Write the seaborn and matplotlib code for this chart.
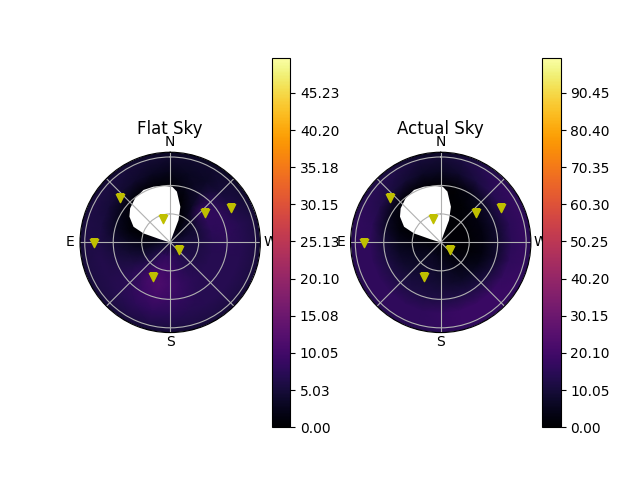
import numpy as np
import matplotlib
matplotlib.use("Agg")
import matplotlib.pyplot as plt
import seaborn as sns

# sky grid: azimuth (deg, N=0, E=90) and zenith angle (deg)
AZIMUTHS = [0, 15, 30, 45, 60, 75, 90, 105, 120, 135, 150, 165,
            180, 195, 210, 225, 240, 255, 270, 285, 300, 315, 330, 345]
ZENITHS = [0, 15, 30, 45, 60, 75, 89, 95]

FLAT_SKY = [
    [4, 4, 4, 4, 4, 4, 4, 4, 4, 4, 4, 4, 4, 4, 4, 4, 4, 4, 4, 4, 4, 4, 4, 4],
    [0, 0, 0, 0, 0, 1, 2.5, 4, 5, 6.5, 7.5, 8, 8, 7.5, 7, 6.5, 6, 5.5, 5, 4.5, 3.5, 2.5, 1, 0],
    [0, 0, 0, 0, 0, 0.5, 2, 3.5, 5, 7, 9, 10, 9.5, 8, 7, 6.5, 6, 6, 5.5, 5, 4.5, 3.5, 1.5, 0],
    [0, 0, 0, 0, 0, 1, 3, 4.5, 6, 8, 10.5, 11.5, 10, 8.5, 7.5, 7, 7, 7, 7, 7.5, 8, 8.5, 3, 0.5],
    [0.5, 0.5, 0.5, 1, 2, 3, 4.5, 5.5, 6.5, 7.5, 9, 10, 9, 8, 7, 7, 7, 7, 7.5, 8, 8, 7.5, 4, 2],
    [2.5, 3, 4, 4.5, 5, 5.5, 6, 6.5, 6.5, 7, 7.5, 8, 7.5, 7, 7, 7, 7, 7, 7, 7, 6, 5, 3.5, 3],
    [4, 4.5, 5, 5.5, 6, 6, 6, 6, 6, 6, 6, 6, 6, 6, 6, 6, 6, 6, 6, 6, 5, 4.5, 4, 4],
    [3, 3.5, 4, 4, 4.5, 4.5, 4.5, 4.5, 4.5, 4.5, 4.5, 4.5,
     4.5, 4.5, 4.5, 4.5, 4.5, 4.5, 4.5, 4.5, 4, 3.5, 3, 3],
]

ACTUAL_SKY = [
    [1, 1, 1, 1, 1, 1, 1, 1, 1, 1, 1, 1, 1, 1, 1, 1, 1, 1, 1, 1, 1, 1, 1, 1],
    [0, 0, 0, 0, 0, 0, 2, 3, 4, 5, 5.5, 5, 4, 3, 2, 1, 0.5, 0.5, 0.5, 0.5, 0.5, 0.5, 0, 0],
    [0, 0, 0, 0, 0, 1, 3, 5, 6, 7, 8, 8, 7, 6, 4, 3, 2, 1, 1, 1, 1, 0.5, 0, 0],
    [0, 0, 0, 0, 0, 2, 5, 7, 8, 9, 10, 10, 9, 8, 7, 6, 4, 3, 3, 3, 3, 2, 1, 0],
    [0.5, 0.5, 1, 2, 4, 7, 10, 11, 12, 12, 12, 12, 12, 12, 12, 11, 10, 8, 8, 8, 8, 6, 3, 1],
    [6, 7, 9, 11, 13, 15, 16, 16, 16, 16, 16, 16, 17, 18, 18, 18, 17, 16, 15, 15, 15, 14, 11, 8],
    [9, 10, 12, 14, 15, 16, 16, 16, 16, 16, 16, 16, 17, 18, 18, 18, 18, 17, 17, 17, 17, 16, 14, 11],
    [6, 7, 9, 11, 12, 13, 13, 13, 13, 13, 13, 13, 14, 15, 15, 15, 15, 14, 14, 14, 14, 13, 11, 8],
]

# masked (no data) region boundary
MASK_AZ = [-20, -20, -20.5, -16, -7.5, -2, 6.7, 16.7, 27, 38.5, 49.6, 57.7, 66.9, 71.4, 73]
MASK_ZEN = [0, 10, 25, 39, 54, 58.8, 59.9, 61.3, 62, 59.4, 55.4, 50.8, 42, 29.7, 11]

# satellite positions
SAT_AZ = [48.5, 17.5, 310, 300, 90.5, 231, 154]
SAT_ZEN = [71, 26, 48.4, 73.5, 80.6, 12.3, 40.2]

TITLES = ["Flat Sky", "Actual Sky"]
VMAX = [50, 100]
CB_TICKS = [
    [0.00, 5.03, 10.05, 15.08, 20.10, 25.13, 30.15, 35.18, 40.20, 45.23],
    [0.00, 10.05, 20.10, 30.15, 40.20, 50.25, 60.30, 70.35, 80.40, 90.45],
]
DIR_TICKS = [0, 45, 90, 135, 180, 225, 270, 315]
DIR_LABELS = ["N", "", "E", "", "S", "", "W", ""]


def main():
    cmap = sns.color_palette("inferno", as_cmap=True)
    fig, axes = plt.subplots(1, 2, figsize=(6.4, 4.8), subplot_kw={"projection": "polar"})

    theta = np.radians(np.append(AZIMUTHS, 360))
    T, R = np.meshgrid(theta, np.array(ZENITHS, dtype=float))

    for ax, title, values, vmax, ticks in zip(axes, TITLES, [FLAT_SKY, ACTUAL_SKY], VMAX, CB_TICKS):
        C = np.array(values, dtype=float)
        C = np.column_stack([C, C[:, 0]])  # close the circle
        mesh = ax.pcolormesh(T, R, C, shading="gouraud", cmap=cmap, vmin=0, vmax=vmax)

        ax.fill(np.radians(MASK_AZ), MASK_ZEN, color="white", lw=0, zorder=1.2)

        sns.scatterplot(x=np.radians(SAT_AZ), y=SAT_ZEN, marker="v", color="y",
                        s=36, edgecolor="y", linewidth=1, ax=ax, zorder=3, legend=False)

        ax.set_theta_zero_location("N")
        ax.set_theta_direction(1)
        ax.set_xticks(np.radians(DIR_TICKS))
        ax.set_xticklabels(DIR_LABELS)
        ax.tick_params(axis="x", pad=-3.5)
        ax.set_yticks([30, 60, 90])
        ax.set_yticklabels([])
        ax.set_ylim(0, 95)
        ax.grid(True)
        ax.set_title(title, y=1.055)

        fig.colorbar(mesh, ax=ax, ticks=ticks, format="%.2f")

    fig.savefig("out.png")


if __name__ == "__main__":
    main()
